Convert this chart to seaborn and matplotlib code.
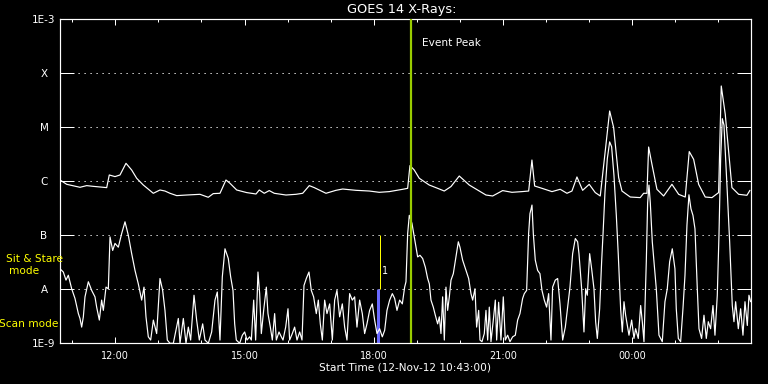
import numpy as np
import pandas as pd
import matplotlib
matplotlib.use("Agg")
import matplotlib.pyplot as plt
import seaborn as sns
from matplotlib.ticker import FixedLocator, NullFormatter

# ---- data: hours since start (12-Nov-12 10:43), log10 flux (W/m^2) ----
long_t = [0.000, 0.156, 0.464, 0.620, 0.766, 1.084, 1.144, 1.277, 1.393, 1.532,
          1.664, 1.780, 1.934, 2.166, 2.321, 2.437, 2.553, 2.709, 2.941, 3.250,
          3.442, 3.558, 3.714, 3.853, 3.946, 4.102, 4.334, 4.550, 4.626, 4.742,
          4.858, 4.974, 5.246, 5.478, 5.634, 5.787, 5.903, 6.175, 6.407, 6.562,
          6.871, 7.180, 7.412, 7.644, 7.955, 8.071, 8.124, 8.224, 8.340, 8.572,
          8.767, 8.921, 9.076, 9.269, 9.501, 9.889, 10.044, 10.276, 10.492, 10.724,
          10.880, 10.956, 11.019, 11.189, 11.421, 11.613, 11.769, 11.885, 12.001, 12.133,
          12.286, 12.426, 12.542, 12.658, 12.760, 12.853, 12.969, 13.046, 13.238, 13.470,
          13.549, 13.626, 13.665, 13.742, 13.858, 14.013, 14.206, 14.362, 14.515, 14.608,
          14.710, 14.826, 14.979, 15.135, 15.290, 15.351, 15.444, 15.599, 15.755, 15.947,
          16.017]
long_log = [-5.976, -6.056, -6.111, -6.080, -6.093, -6.117, -5.883, -5.913, -5.883, -5.667,
            -5.791, -5.944, -6.069, -6.222, -6.161, -6.180, -6.222, -6.265, -6.254, -6.241,
            -6.296, -6.228, -6.222, -5.976, -6.037, -6.161, -6.209, -6.235, -6.161, -6.222,
            -6.172, -6.222, -6.254, -6.241, -6.222, -6.080, -6.117, -6.222, -6.167, -6.143,
            -6.167, -6.180, -6.204, -6.191, -6.148, -6.130, -5.709, -5.791, -5.944, -6.069,
            -6.130, -6.180, -6.098, -5.902, -6.069, -6.254, -6.272, -6.172, -6.204, -6.191,
            -6.180, -5.606, -6.087, -6.130, -6.191, -6.148, -6.222, -6.180, -5.920, -6.167,
            -6.056, -6.209, -6.272, -5.439, -4.698, -5.006, -5.931, -6.180, -6.291, -6.302,
            -6.222, -6.222, -5.365, -5.685, -6.148, -6.272, -6.056, -6.241, -6.291, -5.450,
            -5.593, -6.056, -6.291, -6.302, -6.209, -4.235, -4.759, -6.117, -6.241, -6.259,
            -6.167]

short_t = [0.000, 0.077, 0.139, 0.193, 0.271, 0.348, 0.426, 0.464, 0.503, 0.542,
           0.580, 0.658, 0.735, 0.812, 0.851, 0.913, 0.967, 1.006, 1.068, 1.122,
           1.161, 1.223, 1.277, 1.354, 1.431, 1.509, 1.586, 1.664, 1.741, 1.818,
           1.896, 1.950, 1.996, 2.050, 2.105, 2.167, 2.244, 2.321, 2.383, 2.437,
           2.491, 2.553, 2.631, 2.747, 2.786, 2.863, 2.925, 2.979, 3.033, 3.111,
           3.172, 3.234, 3.312, 3.366, 3.443, 3.521, 3.598, 3.652, 3.714, 3.768,
           3.830, 3.907, 3.962, 4.016, 4.055, 4.093, 4.171, 4.233, 4.287, 4.341,
           4.403, 4.442, 4.496, 4.542, 4.596, 4.635, 4.674, 4.728, 4.790, 4.828,
           4.883, 4.929, 4.983, 5.022, 5.084, 5.138, 5.177, 5.239, 5.293, 5.331,
           5.393, 5.447, 5.502, 5.564, 5.618, 5.664, 5.718, 5.780, 5.834, 5.888,
           5.950, 5.997, 6.043, 6.090, 6.144, 6.198, 6.260, 6.322, 6.376, 6.430,
           6.492, 6.554, 6.608, 6.662, 6.724, 6.786, 6.840, 6.894, 6.956, 7.018,
           7.072, 7.126, 7.188, 7.250, 7.304, 7.359, 7.420, 7.482, 7.537, 7.591,
           7.653, 7.715, 7.769, 7.823, 7.885, 7.947, 8.001, 8.032, 8.071, 8.109,
           8.171, 8.225, 8.264, 8.303, 8.357, 8.419, 8.481, 8.535, 8.574, 8.612,
           8.666, 8.713, 8.767, 8.806, 8.844, 8.883, 8.922, 8.960, 8.999, 9.038,
           9.077, 9.131, 9.193, 9.247, 9.285, 9.347, 9.425, 9.487, 9.541, 9.580,
           9.634, 9.672, 9.719, 9.750, 9.796, 9.850, 9.889, 9.928, 9.966, 10.005,
           10.059, 10.106, 10.137, 10.183, 10.237, 10.291, 10.338, 10.392, 10.446, 10.508,
           10.570, 10.624, 10.678, 10.740, 10.779, 10.833, 10.879, 10.910, 10.957, 10.988,
           11.034, 11.088, 11.142, 11.189, 11.243, 11.297, 11.344, 11.398, 11.436, 11.498,
           11.553, 11.607, 11.669, 11.731, 11.785, 11.839, 11.901, 11.963, 12.017, 12.048,
           12.110, 12.164, 12.203, 12.241, 12.296, 12.342, 12.396, 12.435, 12.474, 12.528,
           12.574, 12.605, 12.652, 12.706, 12.760, 12.806, 12.860, 12.915, 12.961, 13.015,
           13.054, 13.093, 13.131, 13.170, 13.209, 13.271, 13.325, 13.363, 13.425, 13.480,
           13.518, 13.557, 13.611, 13.642, 13.673, 13.704, 13.750, 13.789, 13.843, 13.905,
           13.982, 14.044, 14.098, 14.153, 14.214, 14.276, 14.307, 14.354, 14.408, 14.462,
           14.509, 14.555, 14.601, 14.648, 14.694, 14.741, 14.795, 14.834, 14.895, 14.950,
           15.004, 15.050, 15.104, 15.159, 15.205, 15.259, 15.298, 15.337, 15.375, 15.414,
           15.453, 15.491, 15.546, 15.607, 15.646, 15.685, 15.747, 15.801, 15.855, 15.902,
           15.956, 15.994, 16.033]
short_log = [-7.62, -7.68, -7.83, -7.74, -7.99, -8.17, -8.45, -8.54, -8.70, -8.51,
             -8.14, -7.86, -8.02, -8.14, -8.33, -8.57, -8.20, -8.39, -7.96, -7.99,
             -7.03, -7.28, -7.15, -7.22, -6.97, -6.75, -7.00, -7.34, -7.65, -7.90,
             -8.20, -7.96, -8.51, -8.88, -8.94, -8.57, -8.82, -7.80, -8.02, -8.39,
             -8.94, -9.00, -9.00, -8.54, -9.00, -8.54, -9.00, -8.70, -8.94, -8.11,
             -8.57, -8.94, -8.64, -8.94, -9.00, -8.79, -8.20, -8.05, -8.94, -7.77,
             -7.25, -7.43, -7.77, -8.02, -8.64, -8.94, -9.00, -8.85, -8.79, -8.94,
             -8.88, -8.94, -8.20, -8.94, -7.68, -8.08, -8.82, -8.39, -7.96, -8.45,
             -8.70, -8.94, -8.45, -8.94, -8.79, -8.88, -8.94, -8.70, -8.36, -8.94,
             -8.82, -8.70, -8.94, -8.79, -8.94, -7.93, -7.80, -7.68, -8.02, -8.14,
             -8.45, -8.20, -8.64, -8.94, -8.20, -8.45, -8.27, -8.94, -8.20, -8.02,
             -8.51, -8.27, -8.70, -8.94, -8.08, -8.20, -8.14, -8.70, -8.20, -8.45,
             -8.82, -8.64, -8.39, -8.27, -8.57, -8.82, -8.73, -8.88, -8.76, -8.39,
             -8.20, -8.08, -8.17, -8.39, -8.20, -8.27, -7.96, -7.86, -6.97, -6.63,
             -6.78, -7.03, -7.22, -7.40, -7.37, -7.43, -7.59, -7.80, -7.90, -8.20,
             -8.33, -8.48, -8.64, -8.51, -8.82, -8.14, -8.94, -7.96, -8.39, -8.14,
             -7.83, -7.71, -7.40, -7.12, -7.22, -7.46, -7.65, -7.80, -8.08, -8.20,
             -7.99, -8.70, -8.39, -8.94, -8.97, -8.82, -8.39, -8.94, -8.33, -8.97,
             -8.57, -8.20, -8.94, -8.24, -8.94, -8.14, -8.94, -8.85, -8.97, -8.88,
             -8.85, -8.57, -8.45, -8.17, -8.08, -8.02, -6.97, -6.60, -6.44, -6.97,
             -7.46, -7.65, -7.71, -8.02, -8.20, -8.33, -8.08, -8.94, -7.96, -7.83,
             -7.80, -8.27, -8.94, -8.70, -8.33, -7.96, -7.34, -7.06, -7.12, -7.34,
             -7.99, -8.79, -7.99, -8.11, -7.34, -7.62, -7.99, -8.60, -8.91, -8.36,
             -7.49, -7.00, -6.20, -5.58, -5.27, -5.36, -5.89, -6.63, -7.37, -8.36,
             -8.79, -8.23, -8.48, -8.67, -8.85, -8.57, -8.91, -8.73, -8.91, -8.30,
             -8.60, -8.97, -7.49, -6.40, -6.07, -6.40, -7.12, -7.49, -7.99, -8.85,
             -8.97, -8.23, -7.99, -7.49, -7.25, -7.62, -8.36, -8.91, -8.97, -8.36,
             -7.74, -6.81, -6.25, -6.51, -6.63, -6.88, -7.99, -8.73, -8.91, -8.48,
             -8.91, -8.60, -8.73, -8.30, -8.85, -8.11, -7.00, -5.58, -4.84, -4.96,
             -5.58, -6.20, -7.12, -8.30, -8.60, -8.23, -8.73, -8.36, -8.85, -8.23,
             -8.67, -8.11, -8.23]

level_values = [1e-9, 1e-8, 1e-7, 1e-6, 1e-5, 1e-4, 1e-3]
level_labels = ["1E-9", "A", "B", "C", "M", "X", "1E-3"]
hour_tick_t = [1.2833, 4.2833, 7.2833, 10.2833, 13.2833]
hour_tick_labels = ["12:00", "15:00", "18:00", "21:00", "00:00"]
minor_tick_t = [0.2833, 2.2833, 3.2833, 5.2833, 6.2833, 8.2833, 9.2833,
                11.2833, 12.2833, 14.2833, 15.2833]
event_peak_t = 8.148
mode_marker_t = 7.38
t_end = 16.03

W, H = 768, 384

sns.set_theme(style="dark")
plt.rcParams["font.family"] = ["DejaVu Sans"]

fig = plt.figure(figsize=(W / 100, H / 100), dpi=100, facecolor="black")
ax = fig.add_axes([60 / W, 1 - 343.3 / H, 690.5 / W, 324 / H])
ax.set_facecolor("black")

df_long = pd.DataFrame({"t": long_t, "flux": np.power(10.0, long_log)})
df_short = pd.DataFrame({"t": short_t, "flux": np.power(10.0, short_log)})

px = 0.72  # one pixel in points
sns.lineplot(data=df_long, x="t", y="flux", ax=ax, color="white", lw=1.2 * px,
             estimator=None, sort=False, zorder=3)
sns.lineplot(data=df_short, x="t", y="flux", ax=ax, color="white", lw=1.2 * px,
             estimator=None, sort=False, zorder=3)

ax.set_yscale("log")
ax.set_xlim(0, t_end)
ax.set_ylim(level_values[0], level_values[-1])

# mode markers
ax.vlines(mode_marker_t, 1e-9, 1e-8, color="#6a6aff", lw=3 * px, zorder=2)
ax.vlines(mode_marker_t + 0.04, 1e-8, 1e-7, color="#ffff00", lw=1 * px, zorder=2)
ax.text(mode_marker_t + 0.1, 10 ** -7.67, "1", color="white", fontsize=7,
        ha="left", va="center")

# event peak
ax.axvline(event_peak_t, color="#99cc00", lw=2.2 * px, zorder=5)

# y axis
ax.yaxis.set_major_locator(FixedLocator(level_values))
ax.yaxis.set_minor_locator(FixedLocator([]))
ax.set_yticklabels(level_labels)
ax.tick_params(axis="y", which="major", direction="in", length=14 * px,
               width=1 * px, color="white", left=True, right=True,
               labelcolor="white", labelsize=7.5, pad=16 * px)
for lab in ax.get_yticklabels():
    lab.set_horizontalalignment("center")

# x axis
ax.xaxis.set_major_locator(FixedLocator(hour_tick_t))
ax.xaxis.set_minor_locator(FixedLocator(minor_tick_t))
ax.set_xticklabels(hour_tick_labels)
ax.xaxis.set_minor_formatter(NullFormatter())
ax.tick_params(axis="x", which="major", direction="in", length=6 * px,
               width=1 * px, color="white", top=True, bottom=True,
               labelcolor="white", labelsize=7, pad=8 * px)
ax.tick_params(axis="x", which="minor", direction="in", length=3 * px,
               width=1 * px, color="white", top=True, bottom=True)

ax.grid(False)
ax.yaxis.grid(True, which="major", color="white", lw=1 * px,
              linestyle=(0, (1.2, 4.8)), zorder=1)
ax.set_axisbelow(True)
for s in ax.spines.values():
    s.set_color("white")
    s.set_linewidth(1.2 * px)
    s.set_visible(True)
ax.set_xlabel("")
ax.set_ylabel("")

# texts
fig.text(402 / W, 1 - 10 / H, "GOES 14 X-Rays:", color="white", fontsize=9.3,
         ha="center", va="center")
fig.text(421.7 / W, 1 - 43 / H, "Event Peak", color="white", fontsize=7.6,
         ha="left", va="center")
fig.text(405 / W, 1 - 368 / H, "Start Time (12-Nov-12 10:43:00)", color="white",
         fontsize=7.6, ha="center", va="center")
fig.text(34 / W, 1 - 258.5 / H, "Sit & Stare", color="#ffff00", fontsize=7.6,
         ha="center", va="center")
fig.text(24.3 / W, 1 - 271 / H, "mode", color="#ffff00", fontsize=7.6,
         ha="center", va="center")
fig.text(28.3 / W, 1 - 324 / H, "Scan mode", color="#ffff00", fontsize=7.6,
         ha="center", va="center")

fig.savefig("out.png", dpi=100, facecolor="black")
